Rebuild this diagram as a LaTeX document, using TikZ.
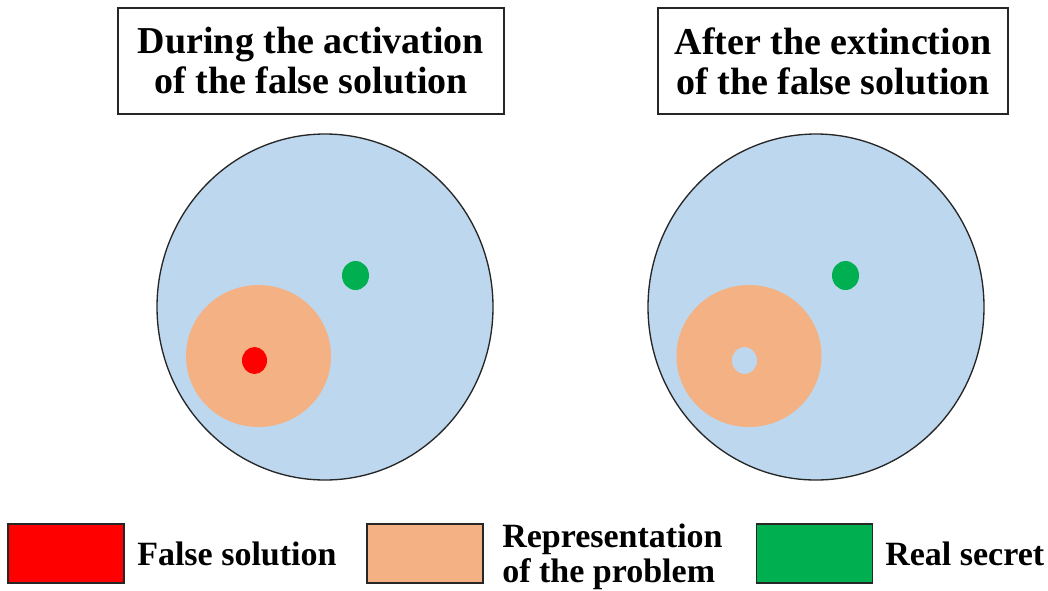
\documentclass[tikz,border=0pt]{standalone}
\usepackage{fontspec}
\setmainfont{Liberation Serif}
\usetikzlibrary{shapes.geometric}
\definecolor{worldblue}{HTML}{BDD7EE}
\definecolor{repcol}{HTML}{F4B183}
\definecolor{falsecol}{HTML}{FF0000}
\definecolor{realcol}{HTML}{00B050}
\definecolor{edgecol}{HTML}{262626}
\begin{document}
\begin{tikzpicture}[x=0.75pt,y=-0.75pt,
  titlebox/.style={draw=edgecol, line width=1.2pt, fill=white, align=center, inner sep=0pt,
    font=\bfseries\fontsize{28.5}{30}\selectfont, minimum height=79.5pt},
  world/.style={ellipse, draw=edgecol, line width=1pt, fill=worldblue, inner sep=0pt,
    minimum width=252pt, minimum height=259.5pt},
  repr/.style={ellipse, fill=repcol, inner sep=0pt, minimum width=108.75pt, minimum height=106.5pt},
  dotfalse/.style={ellipse, fill=falsecol, inner sep=0pt, minimum width=18.75pt, minimum height=20.25pt},
  dothole/.style={ellipse, fill=worldblue, inner sep=0pt, minimum width=18.75pt, minimum height=20.25pt},
  dotreal/.style={ellipse, fill=realcol, inner sep=0pt, minimum width=20.25pt, minimum height=21.75pt},
  legendbox/.style={draw=edgecol, line width=0.8pt, inner sep=0pt, minimum width=87pt, minimum height=44.25pt},
  legendtext/.style={inner sep=0pt, align=left, font=\bfseries\fontsize{25.5}{26.25}\selectfont}
]
\useasboundingbox (0,0) rectangle (1048,590);

% titles
\node[titlebox, minimum width=289.5pt] (t1) at (311,61) {During the activation\\of the false solution};
\node[titlebox, minimum width=262.5pt] (t2) at (833,61) {After the extinction\\of the false solution};

% left diagram
\node[world] (w1) at (325,307) {};
\node[repr] (r1) at (258.5,356) {};
\node[dotfalse] (f1) at (254.5,360.5) {};
\node[dotreal] (g1) at (355.5,275.5) {};

% right diagram
\node[world] (w2) at (816,307) {};
\node[repr] (r2) at (749,356) {};
\node[dothole] (h2) at (744.5,360.5) {};
\node[dotreal] (g2) at (845.5,275.5) {};

% legend
\node[legendbox, fill=falsecol] (lf) at (66,553.5) {};
\node[legendtext, anchor=base west] (lft) at (137,565) {False solution};
\node[legendbox, fill=repcol] (lr) at (425,553.5) {};
\node[legendtext, anchor=west] (lrt) at (502,556.5) {Representation\\of the problem};
\node[legendbox, fill=realcol] (lg) at (814.5,553.5) {};
\node[legendtext, anchor=base west] (lgt) at (885,565) {Real secret};
\end{tikzpicture}
\end{document}
